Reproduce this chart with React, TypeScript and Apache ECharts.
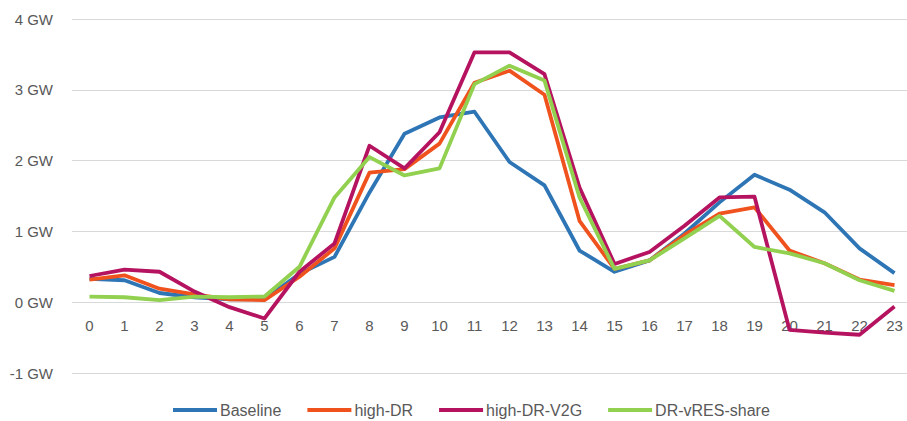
import React, { useEffect, useRef } from "react";
import * as echarts from "echarts";

const hours = ["0","1","2","3","4","5","6","7","8","9","10","11","12","13","14","15","16","17","18","19","20","21","22","23"];
const baseline = [0.33,0.31,0.13,0.07,0.04,0.04,0.40,0.64,1.55,2.38,2.61,2.69,1.98,1.65,0.73,0.43,0.59,0.97,1.41,1.80,1.59,1.27,0.76,0.41];
const highDR = [0.32,0.38,0.19,0.11,0.04,0.03,0.36,0.76,1.83,1.88,2.24,3.10,3.27,2.93,1.15,0.47,0.59,0.95,1.25,1.34,0.73,0.55,0.32,0.24];
const highDRV2G = [0.37,0.46,0.43,0.15,-0.07,-0.23,0.43,0.83,2.21,1.89,2.40,3.53,3.53,3.22,1.62,0.54,0.71,1.08,1.48,1.49,-0.39,-0.43,-0.46,-0.06];
const drVresShare = [0.08,0.07,0.03,0.08,0.07,0.08,0.50,1.48,2.05,1.79,1.89,3.08,3.34,3.13,1.48,0.47,0.59,0.90,1.22,0.78,0.69,0.55,0.31,0.16];
const seriesNames = ["Baseline","high-DR","high-DR-V2G","DR-vRES-share"];
const seriesColors = ["#2E75B6","#F0521E","#B5135F","#92D050"];

export default function App() {
  const ref = useRef<HTMLDivElement>(null);
  useEffect(() => {
    if (!ref.current) return;
    const chart = echarts.init(ref.current, undefined, { renderer: "svg" });
    const data = [baseline, highDR, highDRV2G, drVresShare];
    const gridBottom = 48;
    const gridTop = 19;
    const plotH = 421 - gridTop - gridBottom;
    const yMin = -1;
    const yMax = 4;
    const zeroOffset = (plotH * (0 - yMin)) / (yMax - yMin);
    chart.setOption({
      animation: false,
      backgroundColor: "#ffffff",
      grid: { left: 72, right: 0, top: gridTop, bottom: gridBottom, containLabel: false },
      legend: {
        left: 173,
        top: 401,
        padding: 0,
        itemWidth: 44,
        itemHeight: 4,
        itemGap: 26,
        icon: "rect",
        data: seriesNames,
        textStyle: { fontFamily: "Liberation Sans", fontSize: 16, lineHeight: 18, color: "#595959", padding: [0, 0, 0, -2] },
      },
      xAxis: {
        type: "category",
        data: hours,
        boundaryGap: true,
        position: "bottom",
        offset: -zeroOffset,
        axisLine: { show: false, onZero: false },
        axisTick: { show: false },
        axisLabel: { margin: 16, fontFamily: "Liberation Sans", fontSize: 15, color: "#595959", interval: 0 },
        splitLine: { show: false },
      },
      yAxis: {
        type: "value",
        min: yMin,
        max: yMax,
        interval: 1,
        axisLine: { show: false },
        axisTick: { show: false },
        axisLabel: {
          margin: 19,
          fontFamily: "Liberation Sans",
          fontSize: 15,
          color: "#595959",
          formatter: (v: number) => `${v} GW`,
        },
        splitLine: { lineStyle: { color: "#d9d9d9", width: 1 } },
      },
      series: seriesNames.map((name, i) => ({
        name,
        type: "line",
        data: data[i],
        symbol: "none",
        color: seriesColors[i],
        lineStyle: { width: 3.8, color: seriesColors[i], join: "round" },
      })),
    });
    return () => chart.dispose();
  }, []);
  return (
    <div style={{ position: "fixed", left: 0, top: 0, width: 907, height: 421, overflow: "hidden", background: "#fff" }}>
      <div ref={ref} style={{ position: "absolute", left: 0, top: 0, width: 912, height: 421 }} />
    </div>
  );
}
